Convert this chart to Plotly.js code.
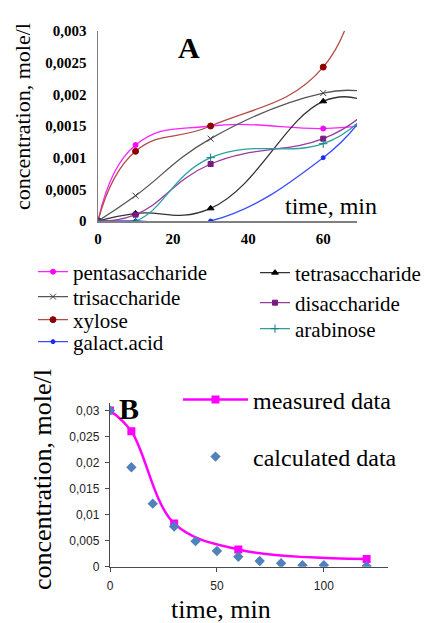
<!DOCTYPE html>
<html>
<head>
<meta charset="utf-8">
<script src="https://cdn.plot.ly/plotly-3.0.1.min.js"></script>
<style>html,body{margin:0;padding:0;background:#fff;}#chart{width:441px;height:623px;}</style>
</head>
<body>
<div id="chart"></div>
<script>
// ---- Panel A data (time, min ; concentration, mole/l) ----
const timeA = [0, 10, 30, 60, 70];
const pentasaccharide = [0, 0.0012, 0.0015, 0.00146, 0.0015];
const trisaccharide   = [0, 0.0004, 0.0013, 0.00202, 0.00205];
const xylose          = [0, 0.0011, 0.0015, 0.00243, 0.0042];
const galactAcid      = [0, 0, 0, 0.001, 0.0016];
const tetrasaccharide = [0, 0.00012, 0.0002, 0.00189, 0.00192];
const disaccharide    = [0, 0.0001, 0.0009, 0.0013, 0.00165];
const arabinose       = [0, 0, 0.001, 0.00122, 0.0016];
const namesA = ['pentasaccharide','trisaccharide','xylose','galact.acid','tetrasaccharide','disaccharide','arabinose'];

// ---- Panel B data ----
const timeMeasured = [0, 10, 30, 60, 120];
const measured     = [0.03, 0.026, 0.0083, 0.0033, 0.0015];
const timeCalc     = [0, 10, 20, 30, 40, 50, 60, 70, 80, 90, 100, 120];
const calculated   = [0.03, 0.0191, 0.0121, 0.0077, 0.0049, 0.003, 0.0019, 0.0011, 0.00065, 0.0003, 0.0003, 0.0001];
const namesB = ['measured data', 'calculated data'];

const W = 441, H = 623;
const px = v => v / W, py = v => 1 - v / H;
const serif = 'Liberation Serif';
const sans = 'Liberation Sans';

function lineTrace(y, name, lineColor, markerColor, symbol, size, legendId) {
  return {
    x: timeA, y: y, name: name, type: 'scatter', mode: 'lines+markers',
    xaxis: 'x', yaxis: 'y', legend: legendId,
    line: {shape: 'spline', smoothing: 1.3, color: lineColor, width: 1.3},
    marker: {symbol: symbol, size: size, color: markerColor, line: {color: markerColor, width: 1}},
    cliponaxis: true
  };
}

const traces = [
  lineTrace(pentasaccharide, namesA[0], '#ff22ff', '#ff00ff', 'circle', 5, 'legend'),
  lineTrace(trisaccharide,   namesA[1], '#555555', '#444444', 'x-thin', 6, 'legend2'),
  lineTrace(xylose,          namesA[2], '#b34a46', '#8b0000', 'circle', 6, 'legend3'),
  lineTrace(galactAcid,      namesA[3], '#3a4dff', '#1a2dee', 'circle', 4, 'legend4'),
  lineTrace(tetrasaccharide, namesA[4], '#333333', '#000000', 'triangle-up', 6, 'legend5'),
  lineTrace(disaccharide,    namesA[5], '#9a3aa0', '#7a1a80', 'square', 5, 'legend6'),
  lineTrace(arabinose,       namesA[6], '#2aa0a0', '#108080', 'cross-thin', 6, 'legend7'),
  {
    x: timeMeasured, y: measured, name: namesB[0], type: 'scatter', mode: 'lines+markers',
    xaxis: 'x2', yaxis: 'y2', legend: 'legend8',
    line: {shape: 'spline', smoothing: 1, color: '#ff00ff', width: 2.5},
    marker: {symbol: 'square', size: 8, color: '#ff00ff'}
  },
  {
    x: timeCalc, y: calculated, name: namesB[1], type: 'scatter', mode: 'markers',
    xaxis: 'x2', yaxis: 'y2', legend: 'legend9',
    marker: {symbol: 'diamond', size: 8, color: '#4f81bd'}
  }
];

function leg(x0, yc, size, itemwidth) {
  return {
    x: px(x0), y: py(yc), xanchor: 'left', yanchor: 'middle',
    font: {family: serif, size: size, color: '#000'},
    bgcolor: 'rgba(0,0,0,0)', borderwidth: 0, tracegroupgap: 0,
    itemwidth: itemwidth || 30,
    itemclick: false, itemdoubleclick: false
  };
}

const axisA = '#808080';
const axisB = '#4a4a4a';
const layout = {
  width: W, height: H,
  margin: {l: 0, r: 0, t: 0, b: 0},
  paper_bgcolor: '#fff', plot_bgcolor: '#fff',
  font: {family: serif, color: '#000'},
  separators: ', ',
  showlegend: true,
  xaxis: {
    domain: [px(98), px(357)], range: [0, 69], anchor: 'y',
    tickvals: [0, 20, 40, 60], showgrid: false, zeroline: false,
    showline: true, linecolor: axisA, linewidth: 1.5, ticks: '',
    ticklabelstandoff: 3,
    tickfont: {family: serif, size: 15, weight: 'bold', color: '#000'}
  },
  yaxis: {
    domain: [py(221), py(31)], range: [0, 0.003], anchor: 'x',
    dtick: 0.0005, tick0: 0, showgrid: false, zeroline: false,
    showline: true, linecolor: axisA, linewidth: 1.5, ticks: '',
    ticklabelstandoff: 7,
    tickfont: {family: serif, size: 15, weight: 'bold', color: '#000'}
  },
  xaxis2: {
    domain: [px(110), px(388)], range: [0, 130], anchor: 'y2',
    dtick: 50, tick0: 0, showgrid: false, zeroline: false,
    showline: true, linecolor: axisB, linewidth: 1.2,
    ticks: 'outside', ticklen: 4, tickcolor: axisB,
    ticklabelstandoff: 4,
    tickfont: {family: sans, size: 12, color: '#222'}
  },
  yaxis2: {
    domain: [py(566.7), py(402.6)], range: [0, 0.0315], anchor: 'x2',
    tickvals: [0, 0.005, 0.01, 0.015, 0.02, 0.025, 0.03],
    showgrid: false, zeroline: false,
    showline: true, linecolor: axisB, linewidth: 1.2,
    ticks: 'outside', ticklen: 4, tickcolor: axisB,
    ticklabelstandoff: 3,
    tickfont: {family: sans, size: 12, color: '#222'}
  },
  legend:  leg(33, 272, 21),
  legend2: leg(33, 297, 21),
  legend3: leg(33, 320, 21),
  legend4: leg(33, 342, 21),
  legend5: leg(255, 273, 21),
  legend6: leg(255, 303, 21),
  legend7: leg(255, 329, 21),
  legend8: leg(178, 400, 24, 65),
  legend9: leg(178, 457, 24, 65),
  annotations: [
    {text: 'concentration, mole/l', xref: 'paper', yref: 'paper', x: px(22), y: py(117),
     textangle: -90, showarrow: false, xanchor: 'center', yanchor: 'middle',
     font: {family: serif, size: 22, color: '#000'}},
    {text: 'time, min', xref: 'paper', yref: 'paper', x: px(331), y: py(206),
     showarrow: false, xanchor: 'center', yanchor: 'middle',
     font: {family: serif, size: 24, color: '#000'}},
    {text: '<b>A</b>', xref: 'paper', yref: 'paper', x: px(189), y: py(48),
     showarrow: false, xanchor: 'center', yanchor: 'middle',
     font: {family: serif, size: 30, color: '#000'}},
    {text: 'concentration, mole/l', xref: 'paper', yref: 'paper', x: px(42), y: py(480),
     textangle: -90, showarrow: false, xanchor: 'center', yanchor: 'middle',
     font: {family: serif, size: 26, color: '#000'}},
    {text: 'time, min', xref: 'paper', yref: 'paper', x: px(221), y: py(609),
     showarrow: false, xanchor: 'center', yanchor: 'middle',
     font: {family: serif, size: 26, color: '#000'}},
    {text: '<b>B</b>', xref: 'paper', yref: 'paper', x: px(129), y: py(408),
     showarrow: false, xanchor: 'center', yanchor: 'middle',
     font: {family: serif, size: 30, color: '#000'}}
  ]
};

Plotly.newPlot('chart', traces, layout, {staticPlot: true, displayModeBar: false});
</script>
</body>
</html>
